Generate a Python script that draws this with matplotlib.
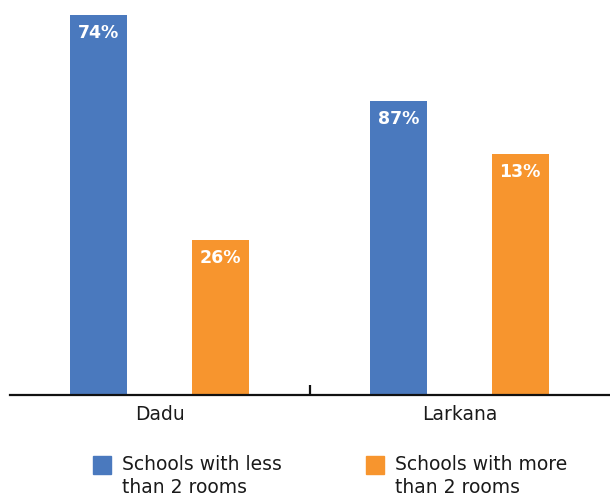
import numpy as np
import matplotlib
matplotlib.use('Agg')
import matplotlib.pyplot as plt
from matplotlib.patches import Rectangle

plt.rcParams['font.family'] = ['DejaVu Sans']

districts = ['Dadu', 'Larkana']
# bar heights as drawn (arbitrary units)
less_rooms = [380, 294]
more_rooms = [155, 241]
less_labels = ['74%', '87%']
more_labels = ['26%', '13%']
series_names = ['Schools with less\nthan 2 rooms', 'Schools with more\nthan 2 rooms']

blue = '#4A79BE'
orange = '#F7952E'

fig = plt.figure(figsize=(6.1, 4.95), dpi=100)
ax = fig.add_axes([10/610, 100/495, 600/610, 395/495])

x = np.arange(len(districts))
w = 0.19
b1 = ax.bar(x - 0.205, less_rooms, w, color=blue)
b2 = ax.bar(x + 0.2, more_rooms, w, color=orange)

for bars, labs in ((b1, less_labels), (b2, more_labels)):
    for r, lab in zip(bars, labs):
        ax.annotate(lab, (r.get_x() + r.get_width()/2, r.get_height()),
                    xytext=(0, -13), textcoords='offset points',
                    ha='center', va='center', color='white',
                    fontsize=12.5, fontweight='bold')

ax.set_xlim(-0.5, 1.5)
ax.set_ylim(0, 395)
for s in ['top', 'right', 'left']:
    ax.spines[s].set_visible(False)
ax.spines['bottom'].set_linewidth(1.6)
ax.spines['bottom'].set_color('#111111')
ax.set_yticks([])
ax.set_xticks([0.5])
ax.set_xticklabels([''])
ax.tick_params(axis='x', which='major', direction='in', length=7.5, width=1.6, color='#111111')
ax.set_xticks(x, minor=True)
ax.set_xticklabels(districts, minor=True, fontsize=13.5, color='#1a1a1a')
ax.tick_params(axis='x', which='minor', length=0, pad=7)

# legend drawn by hand so squares line up with the first text line
for i, (name, col) in enumerate(zip(series_names, [blue, orange])):
    x0 = [93, 366][i]
    fig.patches.append(Rectangle((x0/610, (495-474)/495), 18/610, 18/495,
                                 transform=fig.transFigure, color=col))
    fig.text((x0 + 29)/610, (495-455)/495, name, fontsize=13.5, color='#1a1a1a',
             ha='left', va='top', linespacing=1.25)

fig.savefig('out.png', dpi=100)
